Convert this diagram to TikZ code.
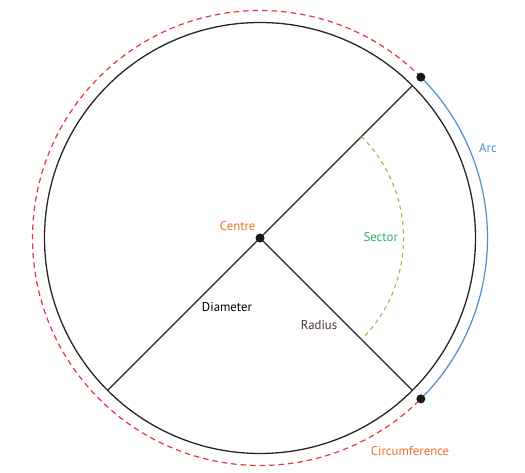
\documentclass[tikz,border=0pt]{standalone}
\usepackage{fontspec}
\setmainfont{PT Sans}
\usetikzlibrary{calc}
\definecolor{cred}{RGB}{235,50,60}
\definecolor{cblue}{RGB}{80,140,210}
\definecolor{cgreen}{RGB}{130,195,60}
\definecolor{csector}{RGB}{50,175,110}
\definecolor{corange}{RGB}{240,110,40}
\definecolor{cradius}{RGB}{75,50,70}
\begin{document}
\begin{tikzpicture}[x=1pt,y=1pt,
  lbl/.style={font=\fontsize{12.8}{14}\selectfont, inner sep=0pt},
  dotmark/.style={circle, fill=black!90, inner sep=0pt, minimum size=9pt},
  blackline/.style={draw=black!85, line width=1.3pt}]
\useasboundingbox (0,0) rectangle (525,472);
\coordinate (O) at (260,234);
% outer arcs
\draw[cred, line width=1.2pt, dash pattern=on 5.5pt off 4pt] ($(O)+(45:227.5)$) arc[start angle=45, end angle=315, radius=227.5];
\draw[cblue, line width=1.2pt] ($(O)+(-45:227.5)$) arc[start angle=-45, end angle=45, radius=227.5];
% main circle
\draw[blackline] (O) circle[radius=215.5];
% diameter and radius
\coordinate (D1) at ($(O)+(45:215.5)$);
\coordinate (D2) at ($(O)+(225:215.5)$);
\coordinate (R1) at ($(O)+(-45:215.5)$);
\draw[blackline] (D2) -- (D1);
\draw[blackline] (O) -- (R1);
% sector arc
\draw[cgreen, line width=1.1pt, dash pattern=on 4pt off 4pt] ($(O)+(45:143.5)$) arc[start angle=45, end angle=-45, radius=143.5];
% dots
\node[dotmark] (centre) at (O) {};
\node[dotmark] (top) at ($(O)+(45:227.5)$) {};
\node[dotmark] (bot) at ($(O)+(-45:227.5)$) {};
% labels
\node[lbl, text=corange] (lcentre) at (237.7,246) {Centre};
\node[lbl, text=black] (ldiam) at (227,164.7) {Diameter};
\node[lbl, text=cradius] (lrad) at (319,147) {Radius};
\node[lbl, text=csector] (lsector) at (380.7,235.3) {Sector};
\node[lbl, text=cblue] (larc) at (488,323.7) {Arc};
\node[lbl, text=corange] (lcirc) at (410,21.3) {Circumference};
\end{tikzpicture}
\end{document}
